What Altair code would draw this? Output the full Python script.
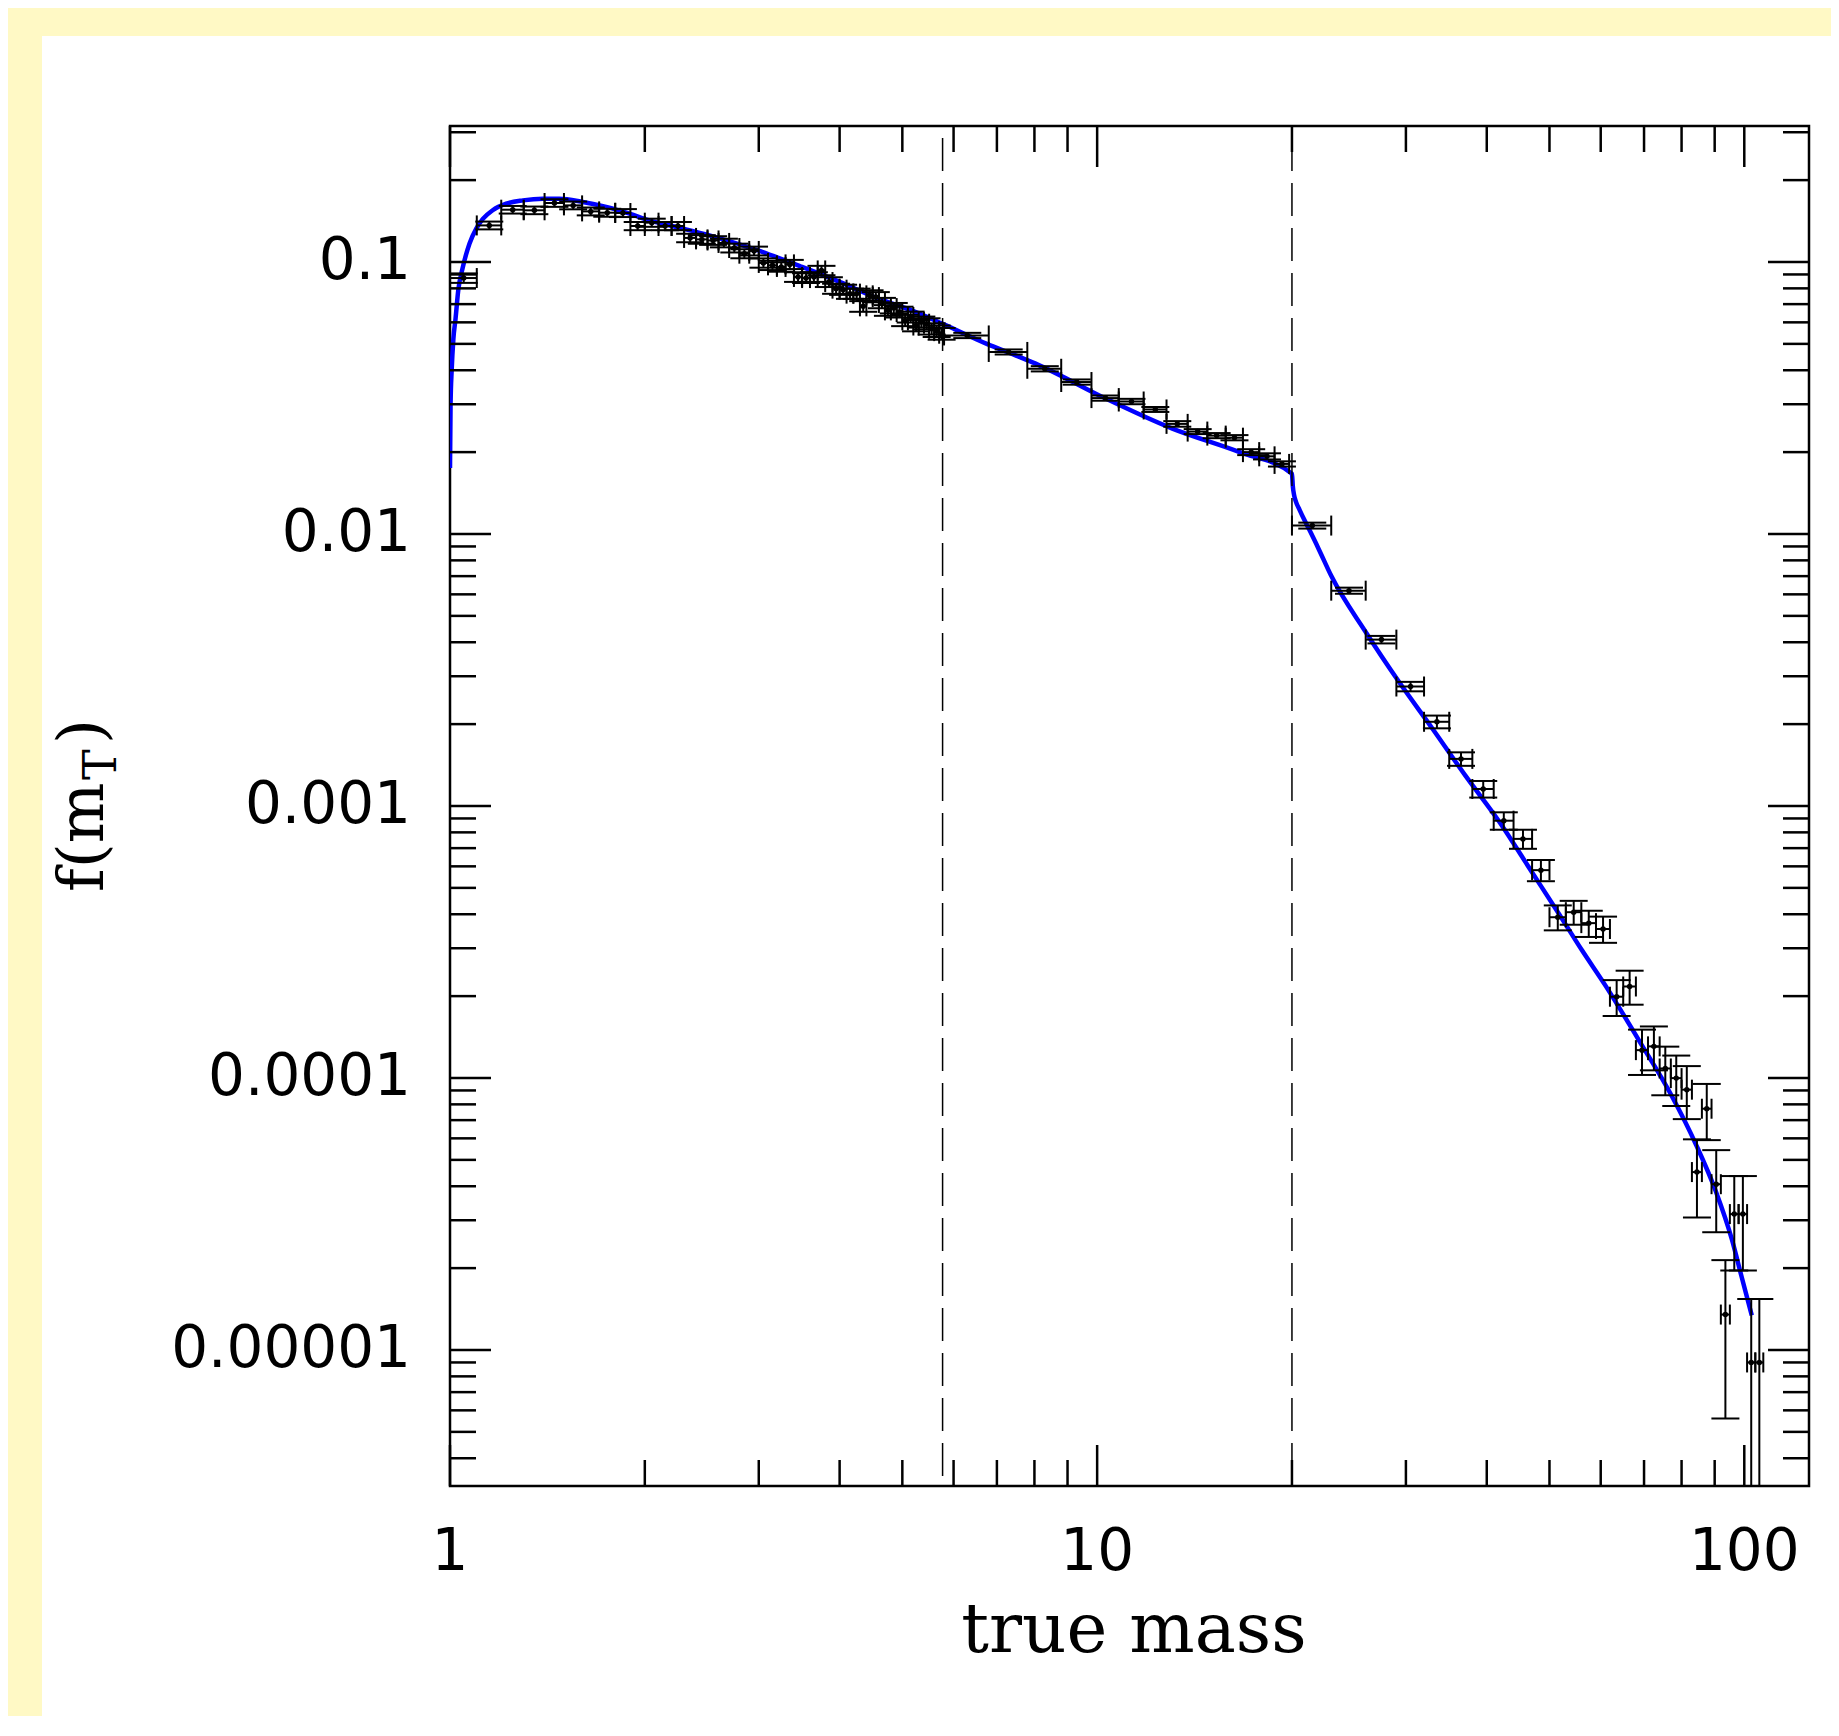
import altair as alt
import pandas as pd

# ---------------- data ----------------
# low-mass bins (width 0.1)
mass_low = [1.05, 1.15, 1.25, 1.35, 1.45, 1.55, 1.65, 1.75, 1.85, 1.95,
            2.05, 2.15, 2.25, 2.35, 2.45, 2.55, 2.65, 2.75, 2.85, 2.95,
            3.05, 3.15, 3.25, 3.35, 3.45, 3.55, 3.65, 3.75, 3.85, 3.95,
            4.05, 4.15, 4.25, 4.35, 4.45, 4.55, 4.65, 4.75, 4.85, 4.95,
            5.05, 5.15, 5.25, 5.35, 5.45, 5.55, 5.65, 5.75]
f_low = [0.0873, 0.1363, 0.1557, 0.1549, 0.1648, 0.1615, 0.1535, 0.1518, 0.1514, 0.1356,
         0.1395, 0.1356, 0.1356, 0.1226, 0.1211, 0.1200, 0.1175, 0.1126, 0.1073, 0.1098,
         0.0992, 0.0972, 0.0959, 0.0980, 0.0881, 0.0873, 0.0881, 0.0931, 0.0844, 0.0798,
         0.0791, 0.0765, 0.0765, 0.0687, 0.0754, 0.0743, 0.0707, 0.0664, 0.0677, 0.0655,
         0.0610, 0.0628, 0.0584, 0.0602, 0.0593, 0.0568, 0.0557, 0.0545]
ferr_low = [0.0035, 0.0045, 0.0050, 0.0050, 0.0053, 0.0053, 0.0051, 0.0051, 0.0051, 0.0047,
            0.0048, 0.0047, 0.0047, 0.0044, 0.0044, 0.0044, 0.0043, 0.0042, 0.0041, 0.0041,
            0.0039, 0.0038, 0.0038, 0.0038, 0.0036, 0.0036, 0.0036, 0.0037, 0.0035, 0.0034,
            0.0034, 0.0033, 0.0033, 0.0031, 0.0033, 0.0032, 0.0031, 0.0030, 0.0030, 0.0030,
            0.0029, 0.0029, 0.0028, 0.0028, 0.0028, 0.0027, 0.0027, 0.0027]
halfbin_low = 0.05

# intermediate bins (width 1)
mass_mid = [6.3, 7.3, 8.3, 9.3, 10.3, 11.3, 12.3, 13.3, 14.3, 15.3, 16.3, 17.3, 18.3, 19.3]
f_mid = [0.0537, 0.0467, 0.0405, 0.0362, 0.0316, 0.0307, 0.0287, 0.0254, 0.0238, 0.0230,
         0.0226, 0.0200, 0.0193, 0.0181]
ferr_mid = [0.0012, 0.0010, 0.0009, 0.0008, 0.0007, 0.0007, 0.0006, 0.0006, 0.0005, 0.0005,
            0.0005, 0.0005, 0.0005, 0.0004]
halfbin_mid = 0.5

# high-mass bins (width 3)
mass_high = [21.5, 24.5, 27.5, 30.5, 33.5, 36.5, 39.5, 42.5, 45.5, 48.5,
             51.5, 54.5, 57.5, 60.5, 63.5, 66.5, 69.5, 72.5, 75.5, 78.5,
             81.5, 84.5, 87.5, 90.5, 93.5, 96.5, 99.5, 102.5, 105.5]
f_high = [0.01074, 0.00619, 0.00409, 0.00275, 0.00204, 0.00149, 0.001155, 0.000883, 0.000757, 0.000581,
          0.000390, 0.000407, 0.000371, 0.000353, 0.000199, 0.000217, 0.0001266, 0.0001307, 0.0001084, 0.0000999,
          0.0000906, 0.0000451, 0.0000771, 0.0000407, 0.0000135, 0.0000316, 0.0000316, 0.0000090, 0.0000090]
ferr_high = [0.00027, 0.00016, 0.00013, 0.00011, 0.00011, 0.000085, 0.000081, 0.000065, 0.000061, 0.000052,
             0.000041, 0.000041, 0.000041, 0.000039, 0.000030, 0.000031, 0.000024, 0.000024, 0.000022, 0.000021,
             0.000020, 0.0000144, 0.000018, 0.0000136, 0.0000079, 0.000012, 0.000012, 0.0000064, 0.0000064]
halfbin_high = 1.5

# fitted model curve
curve_mass = [1.0, 1.002, 1.006, 1.012, 1.02, 1.03, 1.046, 1.072, 1.098, 1.124,
              1.164, 1.221, 1.296, 1.391, 1.476, 1.604, 1.743, 1.894, 2.034, 2.236,
              2.517, 3.0, 3.5, 4.0, 4.59, 5.2, 5.77, 6.74, 7.58, 8.14,
              10.33, 13.07, 16.6, 20.0, 20.06, 20.15, 20.29, 20.55, 20.88, 21.26,
              22.03, 23.0, 26.0, 29.3, 33.0, 37.1, 41.9, 46.96, 51.52, 56.1,
              61.1, 68.7, 77.3, 84.17, 90.36, 95.66, 99.1, 102.7]
curve_f = [0.0175, 0.030, 0.040, 0.052, 0.062, 0.079, 0.095, 0.117, 0.1326, 0.144,
           0.155, 0.1638, 0.1685, 0.1709, 0.1709, 0.1662, 0.1594, 0.1506, 0.1422, 0.1345,
           0.1253, 0.1100, 0.0959, 0.0845, 0.0733, 0.0660, 0.0593, 0.0501, 0.0448, 0.0417,
           0.0314, 0.0244, 0.0200, 0.01665, 0.01503, 0.01393, 0.01313, 0.01227, 0.01132, 0.01040,
           0.00874, 0.00702, 0.004365, 0.00285, 0.00192, 0.00129, 0.00087, 0.000572, 0.000407, 0.0002954,
           0.0002177, 0.0001378, 0.0000857, 0.0000571, 0.00003835, 0.00002554, 0.00001851, 0.00001341]

# vertical dashed break lines
break_mass = [5.77, 20.0]

# axis ticks and labels
x_major = [1, 10, 100]
x_labels = ["1", "10", "100"]
x_minor = [2, 3, 4, 5, 6, 7, 8, 9, 20, 30, 40, 50, 60, 70, 80, 90]
y_major = [0.1, 0.01, 0.001, 0.0001, 0.00001]
y_labels = ["0.1", "0.01", "0.001", "0.0001", "0.00001"]
y_minor = [0.3, 0.2, 0.09, 0.08, 0.07, 0.06, 0.05, 0.04, 0.03, 0.02,
           0.009, 0.008, 0.007, 0.006, 0.005, 0.004, 0.003, 0.002,
           0.0009, 0.0008, 0.0007, 0.0006, 0.0005, 0.0004, 0.0003, 0.0002,
           0.00009, 0.00008, 0.00007, 0.00006, 0.00005, 0.00004, 0.00003, 0.00002,
           0.000009, 0.000008, 0.000007, 0.000006, 0.000005, 0.000004]

x_title = "true mass"

# ---------------- tables ----------------
def region(m, f, e, hw):
    d = pd.DataFrame({"m": m, "f": f, "e": e})
    d["m_lo"] = d["m"] - hw
    d["m_hi"] = d["m"] + hw
    d["f_lo"] = d["f"] - d["e"]
    d["f_hi"] = d["f"] + d["e"]
    return d

pts = pd.concat([region(mass_low, f_low, ferr_low, halfbin_low),
                 region(mass_mid, f_mid, ferr_mid, halfbin_mid),
                 region(mass_high, f_high, ferr_high, halfbin_high)], ignore_index=True)
curve = pd.DataFrame({"m": curve_mass, "f": curve_f})
breaks = pd.DataFrame({"m": break_mass})
xlab = pd.DataFrame({"v": x_major, "t": x_labels})
ylab = pd.DataFrame({"v": y_major, "t": y_labels})
one = pd.DataFrame({"a": [0]})

W, H = 1359, 1360
PADL, PADT, PADR, PADB = 442, 118, 22, 230

xs = alt.Scale(type="log", domain=[1, 10 ** 2.1], nice=False)
ys = alt.Scale(type="log", domain=[10 ** -5.5, 10 ** -0.5], nice=False)

def X(field):
    return alt.X(field, type="quantitative", scale=xs, axis=None)

def Y(field):
    return alt.Y(field, type="quantitative", scale=ys, axis=None)

YELLOW = "#FFF9C5"
LW = 2.0

# background yellow bands (outside plot area)
band_top = alt.Chart(one).mark_rect(color=YELLOW).encode(
    x=alt.value(-PADL), x2=alt.value(W + PADR), y=alt.value(-PADT), y2=alt.value(36 - 126))
band_left = alt.Chart(one).mark_rect(color=YELLOW).encode(
    x=alt.value(-PADL), x2=alt.value(42 - 450), y=alt.value(-PADT), y2=alt.value(H + PADB))

model = alt.Chart(curve).mark_line(color="#0000FF", strokeWidth=4.5, clip=True,
                                   interpolate="monotone").encode(x=X("m"), y=Y("f"))

dashed = alt.Chart(breaks).mark_rule(color="black", strokeWidth=1.5, strokeDash=[33, 12],
                                     strokeDashOffset=33).encode(x=X("m"))

hbar = alt.Chart(pts).mark_rule(color="black", strokeWidth=LW, clip=True).encode(
    x=X("m_lo"), x2="m_hi", y=Y("f"))
vbar = alt.Chart(pts).mark_rule(color="black", strokeWidth=LW, clip=True).encode(
    x=X("m"), y=Y("f_lo"), y2="f_hi")
xcap_lo = alt.Chart(pts).mark_rule(color="black", strokeWidth=LW, clip=True, yOffset=-10, y2Offset=10).encode(
    x=X("m_lo"), y=Y("f"), y2="f")
xcap_hi = alt.Chart(pts).mark_rule(color="black", strokeWidth=LW, clip=True, yOffset=-10, y2Offset=10).encode(
    x=X("m_hi"), y=Y("f"), y2="f")
ycap_lo = alt.Chart(pts).mark_rule(color="black", strokeWidth=LW, clip=True, xOffset=-14, x2Offset=14).encode(
    x=X("m"), x2="m", y=Y("f_lo"))
ycap_hi = alt.Chart(pts).mark_rule(color="black", strokeWidth=LW, clip=True, xOffset=-14, x2Offset=14).encode(
    x=X("m"), x2="m", y=Y("f_hi"))
dots = alt.Chart(pts).mark_circle(color="black", opacity=1, size=30, clip=True).encode(x=X("m"), y=Y("f"))

# inward ticks on all four sides
def xticks(vals, L):
    d = pd.DataFrame({"v": vals})
    b = alt.Chart(d).mark_rule(color="black", strokeWidth=2.5).encode(x=X("v"), y=alt.value(H), y2=alt.value(H - L))
    t = alt.Chart(d).mark_rule(color="black", strokeWidth=2.5).encode(x=X("v"), y=alt.value(0), y2=alt.value(L))
    return [b, t]

def yticks(vals, L):
    d = pd.DataFrame({"v": vals})
    l = alt.Chart(d).mark_rule(color="black", strokeWidth=2.5).encode(y=Y("v"), x=alt.value(0), x2=alt.value(L))
    r = alt.Chart(d).mark_rule(color="black", strokeWidth=2.5).encode(y=Y("v"), x=alt.value(W), x2=alt.value(W - L))
    return [l, r]

ticks = xticks(x_major, 41) + xticks(x_minor, 26) + yticks(y_major, 41) + yticks(y_minor, 26)

# tick labels
xlabels = alt.Chart(xlab).mark_text(font="DejaVu Sans", fontSize=58, color="black", align="center",
                                    baseline="alphabetic").encode(x=X("v"), y=alt.value(H + 84), text="t:N")
ylabels = alt.Chart(ylab).mark_text(font="DejaVu Sans", fontSize=58, color="black", align="right",
                                    baseline="middle").encode(y=Y("v"), x=alt.value(-39), text="t:N")

# x title
xtitle = alt.Chart(one).mark_text(text=x_title, font="DejaVu Serif", fontSize=69, color="black",
                                  align="center", baseline="alphabetic").encode(
    x=alt.value(1134 - 450), y=alt.value(H + 166))

# y-axis title f(m_T), rotated, built from pieces for the subscript
TX = 103 - 450
TY = 892 - 126
ytitle_a = alt.Chart(one).mark_text(text="f(m", angle=270, align="left", baseline="alphabetic",
                                    font="DejaVu Serif", fontSize=64, color="black").encode(
    x=alt.value(TX), y=alt.value(TY))
ytitle_b = alt.Chart(one).mark_text(text="T", angle=270, align="left", baseline="alphabetic",
                                    font="DejaVu Serif", fontSize=46, color="black").encode(
    x=alt.value(TX + 13), y=alt.value(TY - 112))
ytitle_c = alt.Chart(one).mark_text(text=")", angle=270, align="left", baseline="alphabetic",
                                    font="DejaVu Serif", fontSize=64, color="black").encode(
    x=alt.value(TX), y=alt.value(TY - 148))

chart = alt.layer(
    band_top, band_left, model, dashed, hbar, vbar, xcap_lo, xcap_hi, ycap_lo, ycap_hi, dots,
    *ticks, xlabels, ylabels, xtitle, ytitle_a, ytitle_b, ytitle_c
).properties(
    width=W, height=H,
    autosize=alt.AutoSizeParams(type="none"),
    padding={"left": PADL, "top": PADT, "right": PADR, "bottom": PADB},
    background="white",
).configure_view(stroke="black", strokeWidth=2.5)

chart.save("out.html", embed_options={"renderer": "svg", "actions": False})
